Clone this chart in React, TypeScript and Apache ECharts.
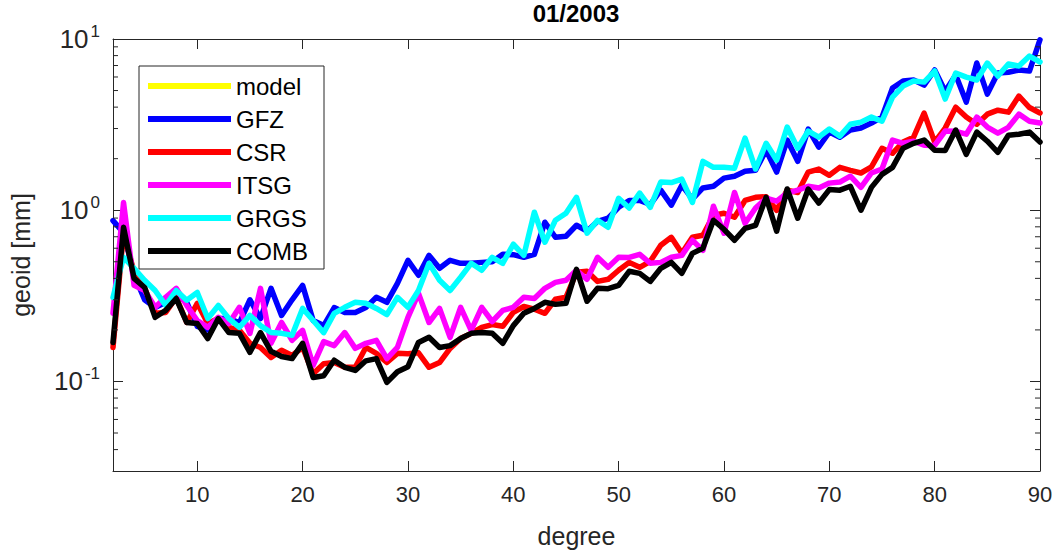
import React, { useEffect, useRef } from 'react';
import * as echarts from 'echarts';

const degrees = [
  2, 3, 4, 5, 6, 7, 8, 9, 10, 11, 12, 13, 14, 15, 16, 17, 18, 19, 20, 21,
  22, 23, 24, 25, 26, 27, 28, 29, 30, 31, 32, 33, 34, 35, 36, 37, 38, 39, 40, 41,
  42, 43, 44, 45, 46, 47, 48, 49, 50, 51, 52, 53, 54, 55, 56, 57, 58, 59, 60, 61,
  62, 63, 64, 65, 66, 67, 68, 69, 70, 71, 72, 73, 74, 75, 76, 77, 78, 79, 80, 81,
  82, 83, 84, 85, 86, 87, 88, 89, 90,
];

const seriesNames = ['model', 'GFZ', 'CSR', 'ITSG', 'GRGS', 'COMB'];
const seriesColors = ['#ffff00', '#0000ff', '#ff0000', '#ff00ff', '#00ffff', '#000000'];

const model: number[] = [];

const gfz = [
  0.87, 0.74, 0.42, 0.30, 0.27, 0.29, 0.32, 0.29, 0.21, 0.20,
  0.233, 0.233, 0.22, 0.30, 0.233, 0.35, 0.243, 0.30, 0.364, 0.227,
  0.212, 0.27, 0.253, 0.253, 0.27, 0.31, 0.29, 0.374, 0.51, 0.417,
  0.545, 0.458, 0.51, 0.49, 0.49, 0.496, 0.50, 0.553, 0.55, 0.531,
  0.553, 0.851, 0.695, 0.705, 0.817, 0.754, 0.862, 0.898, 1.04, 1.14,
  1.14, 1.08, 1.31, 1.07, 1.40, 1.16, 1.35, 1.38, 1.54, 1.58,
  1.69, 1.71, 2.24, 1.67, 2.57, 1.93, 2.98, 2.34, 2.86, 2.67,
  2.94, 3.02, 3.23, 3.50, 5.17, 5.68, 5.76, 5.38, 6.59, 4.96,
  6.16, 4.28, 7.24, 4.77, 6.33, 6.4, 6.59, 6.5, 9.9,
];

const csr = [
  0.158, 0.74, 0.434, 0.35, 0.25, 0.253, 0.31, 0.221, 0.286, 0.218,
  0.233, 0.207, 0.199, 0.167, 0.158, 0.138, 0.152, 0.142, 0.158, 0.111,
  0.127, 0.129, 0.121, 0.121, 0.158, 0.146, 0.129, 0.146, 0.145, 0.147,
  0.121, 0.129, 0.156, 0.178, 0.191, 0.207, 0.215, 0.21, 0.253, 0.274,
  0.264, 0.25, 0.302, 0.31, 0.434, 0.44, 0.384, 0.395, 0.446, 0.496,
  0.464, 0.503, 0.624, 0.695, 0.56, 0.695, 0.714, 0.935, 0.96, 0.91,
  1.14, 1.19, 1.2, 1.0, 1.31, 1.27, 1.67, 1.74, 1.60, 1.78,
  1.71, 1.65, 1.79, 2.30, 2.15, 2.50, 2.67, 3.69, 2.50, 3.02,
  4.0, 3.50, 3.18, 3.64, 3.84, 3.74, 4.64, 3.98, 3.7,
];

const itsg = [
  0.25, 1.11, 0.364, 0.34, 0.271, 0.31, 0.35, 0.278, 0.227, 0.207,
  0.237, 0.218, 0.271, 0.191, 0.35, 0.167, 0.221, 0.174, 0.199, 0.124,
  0.171, 0.162, 0.193, 0.156, 0.167, 0.174, 0.136, 0.158, 0.237, 0.327,
  0.221, 0.267, 0.181, 0.271, 0.199, 0.271, 0.224, 0.26, 0.271, 0.31,
  0.305, 0.35, 0.379, 0.39, 0.446, 0.395, 0.531, 0.464, 0.531, 0.53,
  0.553, 0.49, 0.496, 0.531, 0.545, 0.668, 0.583, 1.055, 0.734, 1.27,
  0.839, 1.03, 1.175, 1.13, 1.26, 1.31, 1.38, 1.35, 1.44, 1.46,
  1.58, 1.36, 1.65, 1.74, 2.57, 2.46, 2.53, 2.40, 2.39, 2.90,
  2.89, 2.78, 3.50, 3.06, 2.82, 3.05, 3.64, 3.31, 3.23,
];

const grgs = [
  0.31, 0.531, 0.458, 0.39, 0.34, 0.278, 0.34, 0.298, 0.331, 0.233,
  0.278, 0.233, 0.207, 0.243, 0.212, 0.193, 0.191, 0.186, 0.267, 0.227,
  0.193, 0.25, 0.271, 0.29, 0.286, 0.267, 0.246, 0.31, 0.271, 0.34,
  0.49, 0.39, 0.34, 0.406, 0.49, 0.446, 0.531, 0.49, 0.633, 0.545,
  0.973, 0.65, 0.874, 0.96, 1.19, 0.734, 0.874, 0.795, 1.175, 1.03,
  1.26, 1.04, 1.46, 1.45, 1.52, 1.11, 1.93, 1.78, 1.78, 1.76,
  2.64, 1.74, 2.46, 1.96, 3.06, 2.30, 2.90, 2.67, 2.98, 2.71,
  3.18, 3.27, 3.50, 3.31, 4.58, 5.31, 5.68, 5.60, 6.50, 4.46,
  6.33, 5.99, 5.76, 7.24, 6.08, 7.14, 6.95, 7.95, 7.34,
];

const comb = [
  0.169, 0.795, 0.40, 0.354, 0.237, 0.26, 0.305, 0.221, 0.218, 0.178,
  0.233, 0.193, 0.191, 0.148, 0.193, 0.15, 0.14, 0.136, 0.167, 0.1055,
  0.108, 0.133, 0.121, 0.116, 0.132, 0.136, 0.0987, 0.114, 0.122, 0.169,
  0.181, 0.158, 0.162, 0.178, 0.191, 0.193, 0.191, 0.167, 0.212, 0.25,
  0.267, 0.29, 0.282, 0.286, 0.452, 0.294, 0.35, 0.348, 0.364, 0.44,
  0.428, 0.384, 0.458, 0.496, 0.428, 0.56, 0.60, 0.874, 0.774, 0.668,
  0.784, 0.817, 1.19, 0.754, 1.33, 0.898, 1.33, 1.10, 1.32, 1.31,
  1.38, 1.0, 1.36, 1.62, 1.78, 2.30, 2.46, 2.57, 2.24, 2.23,
  2.94, 2.12, 2.86, 2.53, 2.18, 2.74, 2.78, 2.86, 2.50,
];

const seriesValues = [model, gfz, csr, itsg, grgs, comb];

const xTickValues = [10, 20, 30, 40, 50, 60, 70, 80, 90];
const yMinorTickValues = [
  0.04, 0.05, 0.06, 0.07, 0.08, 0.09,
  0.2, 0.3, 0.4, 0.5, 0.6, 0.7, 0.8, 0.9,
  2, 3, 4, 5, 6, 7, 8, 9,
];

const X_MIN = 2;
const X_MAX = 90;
const Y_MIN = 0.03;
const Y_MAX = 10;

const FONT = "'Liberation Sans', Arial, Helvetica, sans-serif";
const AXIS_COLOR = '#262626';

export default function App() {
  const ref = useRef<HTMLDivElement>(null);

  useEffect(() => {
    if (!ref.current) return;
    const chart = echarts.init(ref.current, null, { renderer: 'svg' });

    const xAxisCommon = {
      type: 'value',
      min: X_MIN,
      max: X_MAX,
      splitLine: { show: false },
      axisLine: { show: true, onZero: false, lineStyle: { color: AXIS_COLOR, width: 1 } },
      axisTick: {
        show: true,
        inside: true,
        length: 10,
        customValues: xTickValues,
        lineStyle: { color: AXIS_COLOR, width: 1 },
      },
    };

    const yAxisCommon = {
      type: 'log',
      logBase: 10,
      min: Y_MIN,
      max: Y_MAX,
      splitLine: { show: false },
      minorTick: { show: false },
      axisLine: { show: true, onZero: false, lineStyle: { color: AXIS_COLOR, width: 1 } },
      axisTick: { show: true, inside: true, length: 10, lineStyle: { color: AXIS_COLOR, width: 1 } },
    };

    const lineSeries = seriesNames.map((name, si) => ({
      name,
      type: 'line',
      xAxisIndex: 0,
      yAxisIndex: 0,
      data: seriesValues[si].map((v, i) => [degrees[i], v]),
      symbol: 'none',
      showSymbol: false,
      color: seriesColors[si],
      lineStyle: { width: 5.5, color: seriesColors[si], join: 'round', cap: 'round' },
      emphasis: { disabled: true },
      silent: true,
      clip: true,
      z: 2,
    }));

    const minorTickSeries = {
      name: 'minorTicks',
      type: 'custom',
      xAxisIndex: 0,
      yAxisIndex: 0,
      silent: true,
      clip: false,
      z: 3,
      data: yMinorTickValues.map((v) => [X_MIN, v]),
      renderItem: (_params: any, api: any) => {
        const v = api.value(1);
        const l = api.coord([X_MIN, v]);
        const r = api.coord([X_MAX, v]);
        return {
          type: 'group',
          children: [
            {
              type: 'line',
              shape: { x1: l[0], y1: l[1], x2: l[0] + 5, y2: l[1] },
              style: { stroke: AXIS_COLOR, lineWidth: 1 },
            },
            {
              type: 'line',
              shape: { x1: r[0] - 5, y1: r[1], x2: r[0], y2: r[1] },
              style: { stroke: AXIS_COLOR, lineWidth: 1 },
            },
          ],
        };
      },
    };

    const option: any = {
      animation: false,
      backgroundColor: '#ffffff',
      title: {
        text: '01/2003',
        left: 576,
        top: 1,
        padding: 0,
        textAlign: 'center',
        textStyle: { fontSize: 24, fontWeight: 'bold', color: '#000000', fontFamily: FONT },
      },
      grid: { left: 112, top: 39, width: 928, height: 432, containLabel: false },
      legend: {
        show: true,
        orient: 'vertical',
        left: 139,
        top: 66,
        data: seriesNames,
        icon: 'rect',
        itemWidth: 83,
        itemHeight: 6,
        itemGap: 5,
        padding: [6, 16, 4, 9],
        borderColor: AXIS_COLOR,
        borderWidth: 1,
        backgroundColor: '#ffffff',
        selectedMode: false,
        textStyle: { fontSize: 24, lineHeight: 28, color: '#000000', fontFamily: FONT },
      },
      xAxis: [
        {
          ...xAxisCommon,
          position: 'bottom',
          axisLabel: {
            show: true,
            customValues: xTickValues,
            margin: 12,
            fontSize: 22,
            color: AXIS_COLOR,
            fontFamily: FONT,
          },
          name: 'degree',
          nameLocation: 'middle',
          nameGap: 52,
          nameTextStyle: { fontSize: 25, color: AXIS_COLOR, fontFamily: FONT },
        },
        {
          ...xAxisCommon,
          position: 'top',
          axisLabel: { show: false },
        },
      ],
      yAxis: [
        {
          ...yAxisCommon,
          position: 'left',
          axisLabel: {
            show: true,
            margin: 13,
            formatter: (v: number) => {
              const e = Math.log10(v);
              const r = Math.round(e);
              if (Math.abs(e - r) > 1e-6) return '';
              return `{b|10}{s|${r}}`;
            },
            rich: {
              b: { fontSize: 26, lineHeight: 26, verticalAlign: 'bottom', color: AXIS_COLOR, fontFamily: FONT },
              s: {
                fontSize: 17,
                lineHeight: 17,
                padding: [0, 0, 12, 2],
                verticalAlign: 'bottom',
                color: AXIS_COLOR,
                fontFamily: FONT,
              },
            },
          },
          name: 'geoid [mm]',
          nameLocation: 'middle',
          nameGap: 80,
          nameTextStyle: { fontSize: 25, color: AXIS_COLOR, fontFamily: FONT },
        },
        {
          ...yAxisCommon,
          position: 'right',
          axisLabel: { show: false },
        },
      ],
      series: [...lineSeries, minorTickSeries],
    };

    chart.setOption(option);
    return () => {
      chart.dispose();
    };
  }, []);

  return (
    <div
      ref={ref}
      style={{ position: 'fixed', left: 0, top: 0, width: 1056, height: 556, background: '#ffffff' }}
    />
  );
}
